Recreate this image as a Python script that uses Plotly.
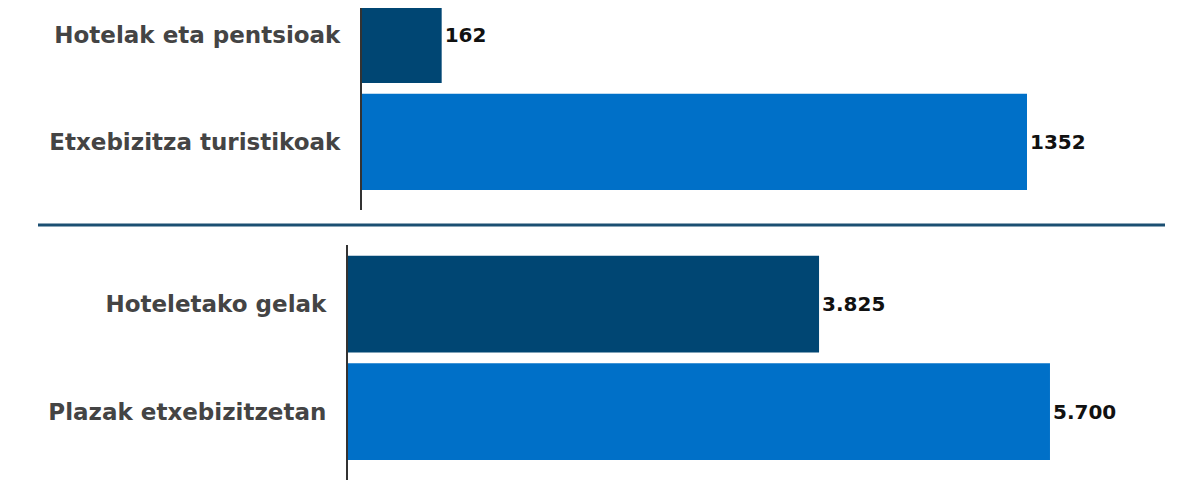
import plotly.graph_objects as go

# NOTE: 上段 - 施設数
top_labels = ['Hotelak eta pentsioak', 'Etxebizitza turistikoak']
top_values = [162, 1352]

# NOTE: 下段 - 部屋・定員
bottom_labels = ['Hoteletako gelak', 'Plazak etxebizitzetan']
bottom_values = [3825, 5700]

colors = ['#004673', '#0070C8']


def fmt_thousands(v):
    """ドット区切りの千の位"""
    return f'{v:,}'.replace(',', '.')


value_font = dict(family='DejaVu Sans', size=20, color='#111111', weight='bold')

fig = go.Figure()

fig.add_trace(go.Bar(
    y=top_labels, x=top_values, orientation='h', width=0.9,
    marker=dict(color=colors, line=dict(width=0)),
    text=[str(v) for v in top_values], textposition='outside',
    textfont=value_font, cliponaxis=False, xaxis='x', yaxis='y'))

fig.add_trace(go.Bar(
    y=bottom_labels, x=bottom_values, orientation='h', width=0.9,
    marker=dict(color=colors, line=dict(width=0)),
    text=[fmt_thousands(v) for v in bottom_values], textposition='outside',
    textfont=value_font, cliponaxis=False, xaxis='x2', yaxis='y2'))

yaxis_common = dict(showline=True, linecolor='#333333', linewidth=2, ticks='',
                    showgrid=False, zeroline=False, ticklabelstandoff=15,
                    tickfont=dict(family='DejaVu Sans', size=23, color='#444444', weight='bold'))
xaxis_common = dict(visible=False, showgrid=False, zeroline=False)

# NOTE: ページのbody余白(8px)を差し引いた位置
fig.update_layout(
    width=1200, height=500,
    margin=dict(l=0, r=0, t=0, b=0),
    paper_bgcolor='white', plot_bgcolor='white',
    showlegend=False,
    font=dict(family='DejaVu Sans', size=20, color='#444444'),
    xaxis=dict(domain=[0.295, 1], range=[0, 1720], anchor='y', **xaxis_common),
    yaxis=dict(domain=[0.596, 1], range=[1.636, -0.252], anchor='x',
               type='category', **yaxis_common),
    xaxis2=dict(domain=[0.2833, 1], range=[0, 6983], anchor='y2', **xaxis_common),
    yaxis2=dict(domain=[0.056, 0.526], range=[1.637, -0.549], anchor='x2',
                type='category', **yaxis_common),
    shapes=[dict(type='line', xref='paper', yref='paper',
                 x0=30 / 1200, x1=1157 / 1200, y0=0.566, y1=0.566,
                 line=dict(color='#1B4F72', width=3))],
)

fig.write_html('out.html')
